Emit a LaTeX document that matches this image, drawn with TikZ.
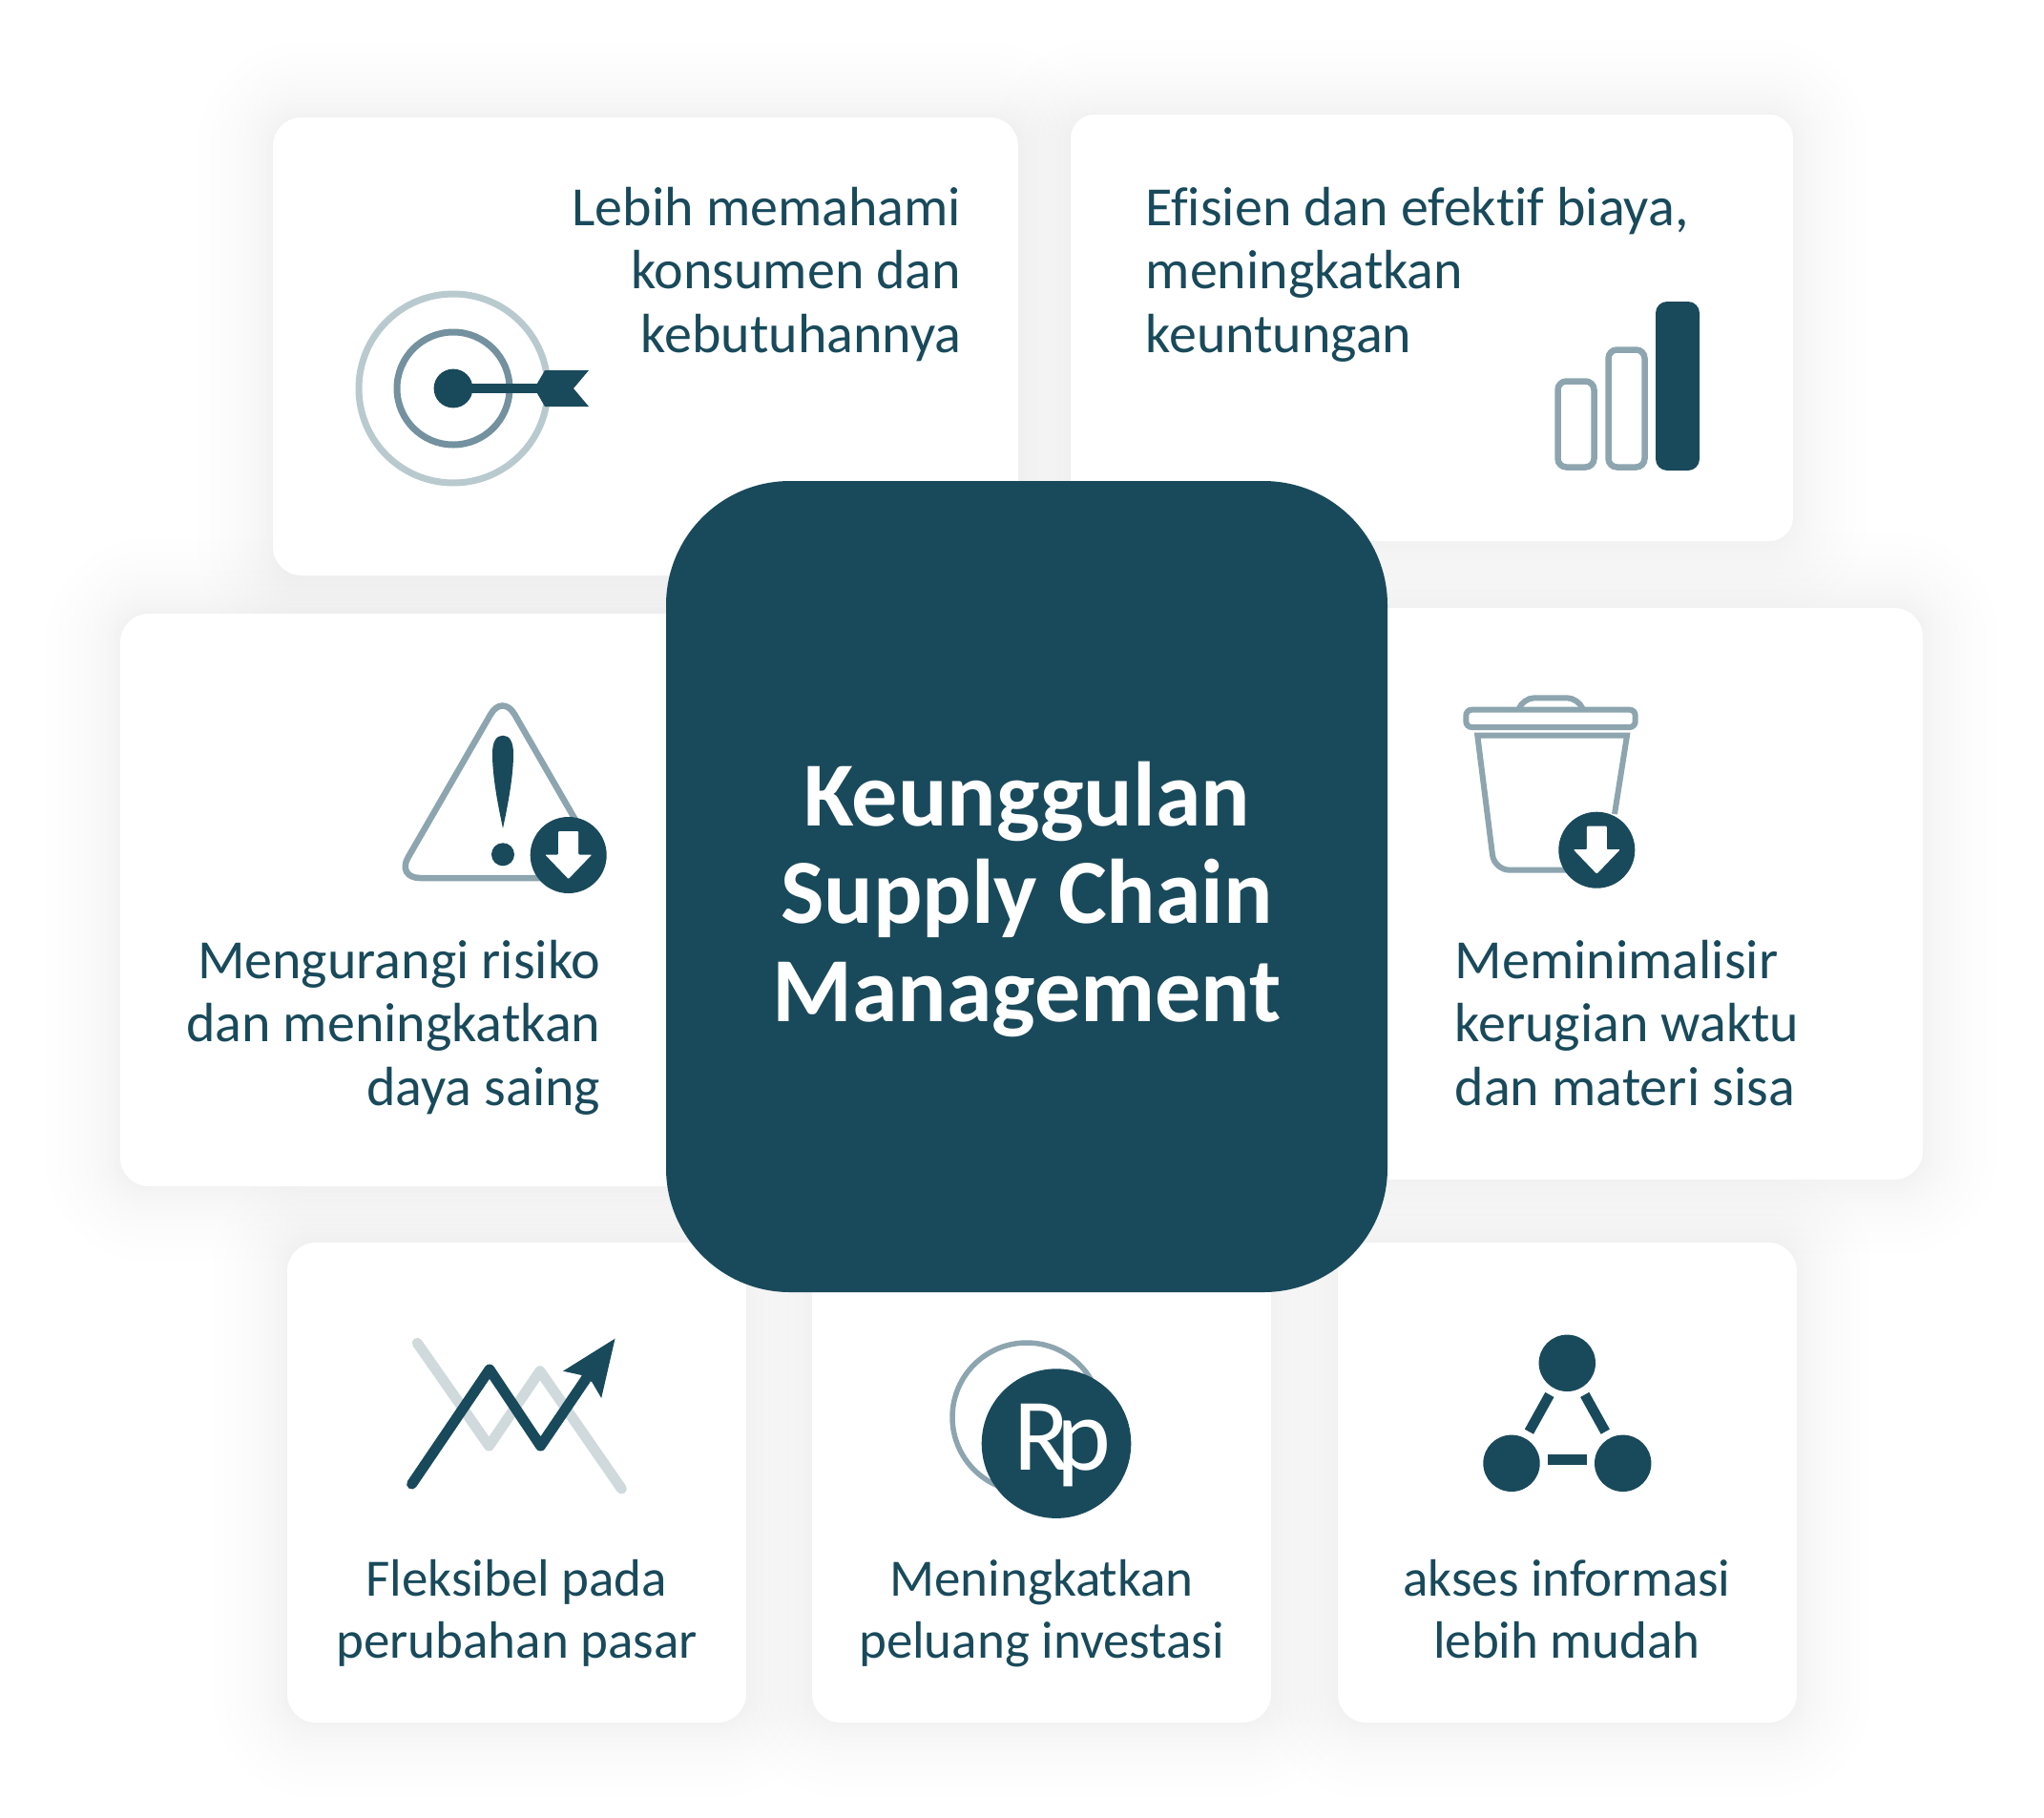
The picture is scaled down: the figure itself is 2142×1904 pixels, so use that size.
\documentclass[tikz,border=0pt]{standalone}
\usepackage{fontspec}
\setmainfont[Ligatures=NoCommon]{Carlito}
\usetikzlibrary{backgrounds}
\definecolor{deep}{HTML}{194A5B}
\definecolor{mid}{HTML}{8DA5AF}
\definecolor{ringb}{HTML}{73919E}
\definecolor{ringa}{HTML}{B9CACF}
\definecolor{pale}{HTML}{D0DADD}
\tikzset{
	x=1pt,y=-1pt,
	card/.style={fill=white,rounded corners=30pt,inner sep=0pt},
	label/.style={text=deep,inner sep=0pt,font=\fontsize{58}{66.3}\selectfont},
	small/.style={label,align=center,anchor=north,font=\fontsize{55}{65}\selectfont},
	icon/.style={draw=mid,line width=6.5pt},
	dot/.style={circle,fill=deep,inner sep=0pt,minimum size=59.4pt},
	bar/.style={draw=deep,line width=10.5pt,shorten >=8pt,shorten <=8pt},
	badge/.pic={
		\fill[deep] (0,0) circle (40);
		\fill[white,rounded corners=1pt] (-10.5,-25) -- (10.5,-25) -- (10.5,-0.5) -- (24.5,-0.5) -- (0,25) -- (-24.5,-0.5) -- (-10.5,-0.5) -- cycle;
	}
}
\begin{document}
\begin{tikzpicture}
\useasboundingbox (0,0) rectangle (2142,1904);

\node (c-1) [card,minimum width=781pt,minimum height=480pt] at (676.5,363) {};
\node (c-2) [card,rounded corners=25pt,minimum width=757pt,minimum height=447pt] at (1500.5,343.5) {};
\node (c-3) [card,minimum width=624pt,minimum height=600pt] at (438,943) {};
\node (c-4) [card,minimum width=595pt,minimum height=599pt] at (1717.5,936.5) {};
\node (c-5) [card,minimum width=481pt,minimum height=503pt] at (541.5,1553.5) {};
\node (c-6) [card,minimum width=481pt,minimum height=503pt] at (1091.5,1553.5) {};
\node (c-7) [card,minimum width=481pt,minimum height=503pt] at (1642.5,1553.5) {};
\begin{scope}[on background layer]
	\fill[white] (0,0) rectangle (2142,1904);
	\foreach \n in {c-1,c-2,c-3,c-4,c-5,c-6,c-7}
		\foreach \r in {1,4,7,11,15,20,25,31,38,46,55,66,78}
			\fill[black,opacity=.0058,rounded corners=30pt+\r pt] ([shift={(-\r pt,-\r pt)}]\n.south west) rectangle ([shift={(\r pt,\r pt)}]\n.north east);
\end{scope}

\node (core) [fill=deep,rounded corners=130pt,inner sep=0pt,minimum width=756pt,minimum height=850pt] at (1076,929) {};
\node (core-t) [text=white,align=center,inner sep=0pt,font=\fontsize{96}{102.5}\bfseries\selectfont] at (1076,942) {Keunggulan\\Supply Chain\\Management};

\node (t-1) [label,align=right,anchor=north east] at (1007.5,196) {Lebih memahami\\konsumen dan\\kebutuhannya};
\node (t-2) [label,align=left,anchor=north west] at (1200.5,196) {Efisien dan efektif biaya,\\meningkatkan\\keuntungan};
\node (t-3) [label,align=right,anchor=north east] at (629.5,985) {Mengurangi risiko\\dan meningkatkan\\daya saing};
\node (t-4) [label,align=left,anchor=north west] at (1524.5,985) {Meminimalisir\\kerugian waktu\\dan materi sisa};
\node (t-5) [small] at (541.5,1634) {Fleksibel pada\\perubahan pasar};
\node (t-6) [small] at (1091.5,1634) {Meningkatkan\\peluang investasi};
\node (t-7) [small] at (1642,1634) {akses informasi\\lebih mudah};

\draw[ringa,line width=7pt] (475,407) circle (99);
\draw[ringb,line width=7pt] (475,407) circle (59);
\fill[deep] (475,407) circle (20.4);
\fill[deep] (475,402) rectangle (565,412);
\fill[deep] (571,388) -- (617,388) -- (601,407) -- (617,426) -- (571,426) -- (560,407) -- cycle;

\draw[icon,rounded corners=9pt] (1632.5,399.5) rectangle (1670.5,489.5);
\draw[icon,rounded corners=9pt] (1685.5,366.5) rectangle (1723.5,489.5);
\fill[deep,rounded corners=12pt] (1735,316) rectangle (1781,493);

\draw[icon,rounded corners=25pt] (526.7,726.8) -- (415.2,920) -- (638.1,920) -- cycle;
\fill[deep] (527,868) .. controls (521,840) and (516,812) .. (516,790) .. controls (516,777) and (520,770.7) .. (527,770.7) .. controls (534,770.7) and (538,777) .. (538,790) .. controls (538,812) and (533,840) .. (527,868) -- cycle;
\fill[deep] (527,895.3) circle (12);
\pic at (595.7,896) {badge};

\draw[mid,line width=6pt,rounded corners=6pt] (1536.3,743.7) rectangle (1713.7,762);
\draw[mid,line width=6pt,rounded corners=12pt] (1591.3,743.7) -- (1596,731.3) -- (1654,731.3) -- (1659,743.7);
\draw[mid,line width=6pt] (1692,853) -- (1705,770.7) -- (1548.3,770.7) [rounded corners=16pt] -- (1566,911.7) -- (1650,911.7);
\pic at (1673.3,890.7) {badge};

\draw[pale,line width=11pt,line cap=round,line join=round] (437.3,1407.3) -- (512.5,1515) -- (565.9,1436.7) -- (651.4,1560);
\draw[deep,line width=11pt,line cap=round,line join=round] (431.6,1555) -- (513,1435) -- (566.5,1515) -- (614,1445);
\fill[deep] (644.5,1402.7) -- (590,1436.7) -- (608.4,1440.7) -- (620.4,1448.3) -- (630.2,1465) -- cycle;

\draw[mid,line width=5.5pt] (1076,1485) circle (78);
\fill[deep] (1107,1512.6) circle (78.3);
\node (rp) [text=white,inner sep=0pt,font=\fontsize{108}{108}\selectfont] at (1113,1515) {R\kern-14pt p};

\node (n-1) [dot] at (1642.3,1428.3) {};
\node (n-2) [dot] at (1584,1533.3) {};
\node (n-3) [dot] at (1700.7,1533.3) {};
\path[bar] (n-1) edge (n-2) edge (n-3);
\path[bar] ([yshift=3.6pt]n-2.east) edge ([yshift=3.6pt]n-3.west);
\end{tikzpicture}
\end{document}
